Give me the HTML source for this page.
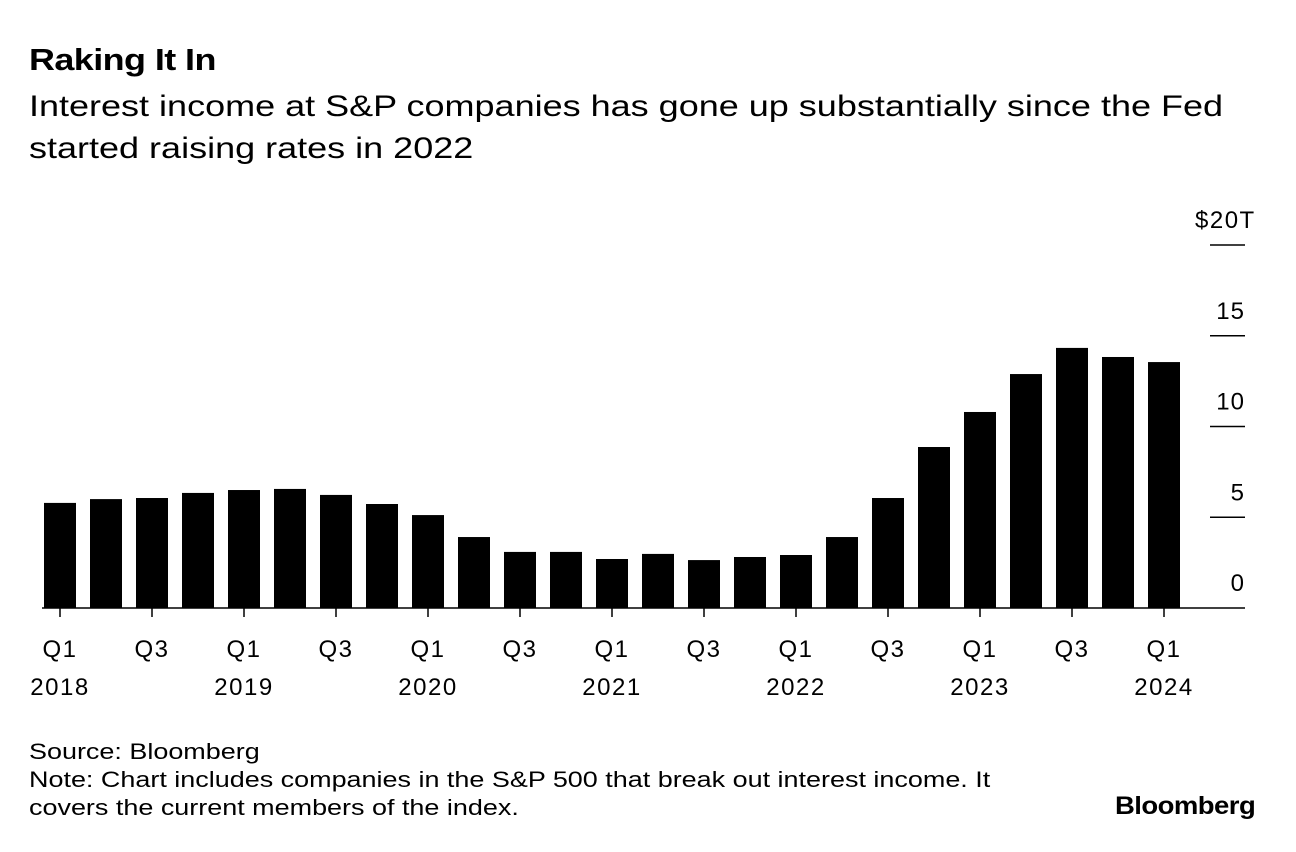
<!DOCTYPE html>
<html><head><meta charset="utf-8">
<style>
body{margin:0;background:#fff;width:1296px;height:852px;overflow:hidden;font-family:"Liberation Sans",Arial,sans-serif;color:#000}
.t{position:absolute;white-space:nowrap;transform-origin:0 0}
</style></head><body>
<div class="t" style="left:29px;top:42px;font-size:31px;font-weight:bold;letter-spacing:-0.5px;transform:scaleX(1.16)">Raking It In</div>
<div class="t" style="left:29px;top:86px;font-size:30px;line-height:42px;transform:scaleX(1.2)">Interest income at S&amp;P companies has gone up substantially since the Fed<br>started raising rates in 2022</div>
<svg width="1296" height="852" style="position:absolute;left:0;top:0" id="chart"></svg>
<div class="t" style="left:29px;top:738px;font-size:22px;line-height:28px;transform:scaleX(1.225)">Source: Bloomberg<br>Note: Chart includes companies in the S&amp;P 500 that break out interest income. It<br>covers the current members of the index.</div>
<div class="t" style="left:1115px;top:792px;font-size:25px;font-weight:bold;letter-spacing:-0.5px;transform:scaleX(1.1)">Bloomberg</div>
<script>
const categories=["Q1 2018","Q2 2018","Q3 2018","Q4 2018","Q1 2019","Q2 2019","Q3 2019","Q4 2019","Q1 2020","Q2 2020","Q3 2020","Q4 2020","Q1 2021","Q2 2021","Q3 2021","Q4 2021","Q1 2022","Q2 2022","Q3 2022","Q4 2022","Q1 2023","Q2 2023","Q3 2023","Q4 2023","Q1 2024"];
const values=[5.79,6.0,6.06,6.34,6.5,6.56,6.23,5.73,5.12,3.91,3.09,3.09,2.70,2.98,2.64,2.81,2.92,3.91,6.06,8.87,10.8,12.89,14.33,13.83,13.55];
const yTicks=[0,5,10,15,20];
const yTickLabels=["0","5","10","15","$20T"];
const xLabels=[["Q1","2018"],["Q3",""],["Q1","2019"],["Q3",""],["Q1","2020"],["Q3",""],["Q1","2021"],["Q3",""],["Q1","2022"],["Q3",""],["Q1","2023"],["Q3",""],["Q1","2024"]];
const svg=document.getElementById('chart');const NS='http://www.w3.org/2000/svg';
const y=v=>608-v*18.15;const x=i=>60+i*46;
function mk(t,a){const e=document.createElementNS(NS,t);for(const k in a)e.setAttribute(k,a[k]);svg.appendChild(e);return e;}
yTicks.forEach((v,i)=>{
 if(v>0){const l=mk('line',{x1:1210,x2:1245,y1:y(v),y2:y(v),stroke:'#000','stroke-width':1.5});
 
 }
 const last=i===yTicks.length-1;
 const t=mk('text',{x:last?1195:1245,y:y(v)-17,'text-anchor':last?'start':'end','font-size':24,'letter-spacing':last?'1.5':'1','font-family':'Liberation Sans, sans-serif'});
 t.textContent=yTickLabels[i];
 
 
});
values.forEach((v,i)=>{
 const r=mk('rect',{x:x(i)-16,y:y(v),width:32,height:y(0)-y(v),fill:'#000'});
 
 
});
const base=mk('line',{x1:42,x2:1245,y1:608,y2:608,stroke:'#000','stroke-width':1.5});


xLabels.forEach((lab,j)=>{
 const i=j*2;
 const tk=mk('line',{x1:x(i),x2:x(i),y1:608,y2:617,stroke:'#000','stroke-width':1.5});
 
 
 lab.forEach((s,k)=>{if(!s)return;
  const t=mk('text',{x:x(i),y:657+k*38,'text-anchor':'middle','font-size':24,'letter-spacing':'1.5','font-family':'Liberation Sans, sans-serif'});
  t.textContent=s;
  
  });
});
</script>
</body></html>
